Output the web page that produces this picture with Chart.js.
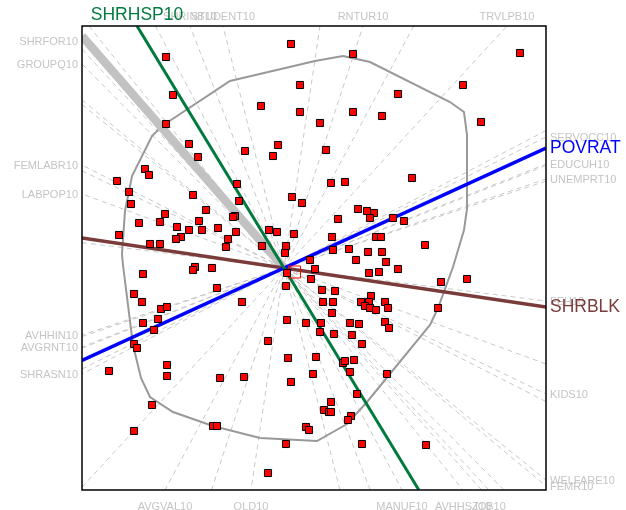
<!DOCTYPE html>
<html>
<head>
<meta charset="utf-8">
<script src="https://cdn.jsdelivr.net/npm/chart.js@4.4.1/dist/chart.umd.min.js"></script>
<style>
  html, body { margin: 0; padding: 0; background: #ffffff; }
  canvas { display: block; }
</style>
</head>
<body>
<canvas id="biplot" width="626" height="510"></canvas>
<script>
// Plot window in component-score units
const xRange = [-2.02, 2.62];
const yRange = [-2.22, 2.42];

// Observation scores (component 1, component 2)
const obsX = [
  0.07, -1.18, 0.16, -1.11, -0.23, 0.16, -1.18, -0.95, -0.06, -0.39,
  -0.86, -0.11, -1.39, -1.35, -1.67, -0.47, -1.55, -0.91, 0.08, -0.45,
  0.18, -1.53, -0.78, -1.19, -0.49, -0.51, -1.45, -1.24, -0.85, -1.07,
  -0.82, -0.95, -0.66, -0.15, -0.07, -0.48, 0.10, -1.65, -1.03, -1.08,
  -0.56, -1.34, -1.24, -0.58, -0.22, 0.02, 0.01, 0.26, -0.89, -0.72,
  0.69, 2.36, 1.79, 1.14, 0.69, 0.98, 0.36, 1.97, 0.42, 0.47,
  0.61, 1.28, 0.74, 0.83, 0.90, 0.86, 0.54, 1.09, 1.20, 0.48,
  0.92, 0.97, 1.41, 0.49, 0.65, 0.84, 0.98, 0.72, 1.02, 0.31,
  1.14, -1.41, -0.91, 0.85, 0.95, 1.57, 1.83, 0.03, 0.27, -1.50,
  -1.42, -0.67, 0.02, 0.38, 0.51, 0.87, 0.85, 0.77, 1.01, 0.81,
  0.86, 0.92, 1.04, 1.54, 0.39, 0.49, -0.42, -1.23, -1.17, 0.48,
  -1.26, -1.41, -1.30, 0.03, 0.22, 0.37, 0.66, 0.75, 1.01, 1.05,
  0.36, 0.50, 0.68, 0.78, -0.16, -1.50, -1.47, -1.75, -1.17, -1.17,
  -0.64, -0.40, 0.04, 0.32, 0.59, 0.70, 0.66, 0.29, 0.07, 1.03,
  0.73, 0.47, 0.40, 0.45, 0.47, 0.67, 0.64, -1.32, -1.50, -0.71,
  -0.67, 0.22, 0.25, 0.02, 0.78, 1.42, -0.16, 0.61
];
const obsY = [
  2.24, 2.11, 1.83, 1.73, 1.62, 1.56, 1.44, 1.24, 1.23, 1.17,
  1.11, 1.12, 0.99, 0.93, 0.87, 0.84, 0.76, 0.73, 0.71, 0.67,
  0.65, 0.64, 0.58, 0.54, 0.52, 0.51, 0.45, 0.46, 0.47, 0.41,
  0.38, 0.38, 0.40, 0.38, 0.36, 0.36, 0.34, 0.33, 0.31, 0.29,
  0.29, 0.24, 0.24, 0.21, 0.22, 0.22, 0.15, 0.08, 0.01, 0.00,
  2.14, 2.15, 1.83, 1.74, 1.56, 1.52, 1.45, 1.46, 1.18, 0.85,
  0.86, 0.90, 0.59, 0.57, 0.55, 0.50, 0.49, 0.50, 0.47, 0.31,
  0.31, 0.31, 0.23, 0.18, 0.19, 0.16, 0.16, 0.08, 0.06, -0.01,
  -0.01, -0.06, -0.02, -0.05, -0.04, -0.14, -0.11, -0.05, -0.11, -0.26,
  -0.34, -0.20, -0.18, -0.22, -0.23, -0.28, -0.34, -0.34, -0.34, -0.38,
  -0.40, -0.42, -0.40, -0.40, -0.34, -0.34, -0.34, -0.41, -0.39, -0.45,
  -0.51, -0.55, -0.62, -0.52, -0.55, -0.55, -0.55, -0.56, -0.54, -0.60,
  -0.64, -0.66, -0.67, -0.76, -0.73, -0.76, -0.80, -1.03, -0.97, -1.08,
  -1.10, -1.09, -0.90, -0.89, -0.95, -0.92, -1.04, -1.06, -1.14, -1.06,
  -1.26, -1.34, -1.42, -1.44, -1.44, -1.48, -1.52, -1.37, -1.63, -1.58,
  -1.58, -1.59, -1.62, -1.76, -1.76, -1.77, -2.05, -0.93
];

// Variable axes: direction of each loading (its positive end is labelled)
const varNames = [
  'SHRINB10', 'STUDENT10', 'RNTUR10', 'TRVLPB10',
  'SHRFOR10', 'GROUPQ10', 'FEMLABR10', 'LABPOP10', 'AVHHIN10', 'AVGRNT10', 'SHRASN10',
  'SERVOCC10', 'EDUCUH10', 'UNEMPRT10', 'FEH10', 'KIDS10', 'WELFARE10', 'FEMR10',
  'AVGVAL10', 'OLD10', 'MANUF10', 'AVHHSZ10', 'JOB10'
];
const varX = [
  -0.94, -0.61, 0.79, 2.23,
  -2.02, -2.02, -2.02, -2.02, -2.02, -2.02, -2.02,
  2.62, 2.62, 2.62, 2.62, 2.62, 2.62, 2.62,
  -1.19, -0.33, 1.18, 1.79, 2.05
];
const varY = [
  2.42, 2.42, 2.42, 2.42,
  2.27, 2.04, 1.03, 0.74, -0.67, -0.79, -1.06,
  1.31, 1.04, 0.89, -0.33, -1.26, -2.12, -2.18,
  -2.22, -2.22, -2.22, -2.22, -2.22
];

// Highlighted variables
const keyNames = ['SHRHSP10', 'POVRAT', 'SHRBLK'];
const keyX = [-1.47, 2.62, 2.62];
const keyY = [2.42, 1.20, -0.39];
const keyColors = ['#007a3d', '#0000ff', '#7a3b3b'];

// Grey bundle toward the upper left
const bundleX = [0, -2.02];
const bundleY = [0, 2.32];

// Bag outline
const hullX = [0.59, 0.86, 1.66, 1.80, 1.83, 1.83, 1.80, 1.69, 1.54, 1.46,
  0.83, 0.63, 0.33, -0.24, -0.71, -1.11, -1.34, -1.43, -1.51, -1.61,
  -1.62, -1.59, -1.52, -1.32, -1.22, -0.54, 0.31, 0.59];
const hullY = [2.12, 2.06, 1.66, 1.56, 1.33, 0.59, 0.38, 0.01, -0.40, -0.57,
  -1.34, -1.56, -1.73, -1.70, -1.58, -1.44, -1.29, -1.10, -0.77, 0.03,
  0.14, 0.57, 0.92, 1.32, 1.42, 1.87, 2.07, 2.12];

// Depth median
const medianX = [0.105];
const medianY = [-0.04];

// Point where a ray from the origin along sign*(dx,dy) leaves the plot window
function reach(dx, dy, sign) {
  const ux = sign * dx, uy = sign * dy;
  let t = Infinity, side = null;
  const test = (v, s) => { if (v < t) { t = v; side = s; } };
  if (ux > 0) test(xRange[1] / ux, 'right');
  if (ux < 0) test(xRange[0] / ux, 'left');
  if (uy > 0) test(yRange[1] / uy, 'top');
  if (uy < 0) test(yRange[0] / uy, 'bottom');
  return { x: ux * t, y: uy * t, side: side };
}
function fullLine(dx, dy) {
  const a = reach(dx, dy, -1), b = reach(dx, dy, 1);
  return [{ x: a.x, y: a.y }, { x: b.x, y: b.y }];
}

const datasets = [];

datasets.push({
  label: 'tracts',
  data: obsX.map((x, i) => ({ x: x, y: obsY[i] })),
  pointStyle: 'rect',
  pointRadius: 5,
  backgroundColor: '#ff0000',
  borderColor: '#000000',
  borderWidth: 1,
  showLine: false,
  order: 0
});

datasets.push({
  label: 'median',
  data: medianX.map((x, i) => ({ x: x, y: medianY[i] })),
  pointStyle: 'rect',
  pointRadius: 8.5,
  backgroundColor: 'rgba(0,0,0,0)',
  borderColor: '#ff0000',
  borderWidth: 1,
  showLine: false,
  order: 1
});

keyNames.forEach((name, i) => {
  datasets.push({
    label: name,
    data: fullLine(keyX[i], keyY[i]),
    showLine: true,
    borderColor: keyColors[i],
    borderWidth: i === 0 ? 3 : 3.5,
    pointRadius: 0,
    order: 2
  });
});

datasets.push({
  label: 'bundle',
  data: bundleX.map((x, i) => ({ x: x, y: bundleY[i] })),
  showLine: true,
  borderColor: '#c2c2c2',
  borderWidth: 8.5,
  borderCapStyle: 'butt',
  pointRadius: 0,
  order: 3
});

datasets.push({
  label: 'bag',
  data: hullX.map((x, i) => ({ x: x, y: hullY[i] })),
  showLine: true,
  borderColor: '#999999',
  borderWidth: 2,
  pointRadius: 0,
  tension: 0,
  order: 4
});

varNames.forEach((name, i) => {
  datasets.push({
    label: name,
    data: fullLine(varX[i], varY[i]),
    showLine: true,
    borderColor: '#c8c8c8',
    borderWidth: 1,
    borderDash: [5, 4],
    pointRadius: 0,
    order: 5
  });
});

// Frame and axis labels at the outer end of each variable line
const biplotLabels = {
  id: 'biplotLabels',
  afterDraw(chart) {
    const { ctx, chartArea, scales } = chart;
    const sx = scales.x, sy = scales.y;
    ctx.save();
    ctx.strokeStyle = '#000000';
    ctx.lineWidth = 1.5;
    ctx.strokeRect(chartArea.left, chartArea.top,
      chartArea.right - chartArea.left, chartArea.bottom - chartArea.top);

    const put = (name, dx, dy, color, size) => {
      const end = reach(dx, dy, 1);
      const px = sx.getPixelForValue(end.x);
      const py = sy.getPixelForValue(end.y);
      ctx.fillStyle = color;
      ctx.font = size + 'px "Liberation Sans", Arial, sans-serif';
      if (end.side === 'top') {
        ctx.textAlign = 'center'; ctx.textBaseline = 'alphabetic';
        ctx.fillText(name, px, chartArea.top - 6);
      } else if (end.side === 'bottom') {
        ctx.textAlign = 'center'; ctx.textBaseline = 'alphabetic';
        ctx.fillText(name, px, chartArea.bottom + 19.5);
      } else if (end.side === 'left') {
        ctx.textAlign = 'right'; ctx.textBaseline = 'middle';
        ctx.fillText(name, chartArea.left - 4, py + 0.5);
      } else {
        ctx.textAlign = 'left'; ctx.textBaseline = 'middle';
        ctx.fillText(name, chartArea.right + 4, py + 0.5);
      }
    };
    varNames.forEach((n, i) => put(n, varX[i], varY[i], '#c4c4c4', 11));
    keyNames.forEach((n, i) => put(n, keyX[i], keyY[i], keyColors[i], 17.5));
    ctx.restore();
  }
};

new Chart(document.getElementById('biplot'), {
  type: 'scatter',
  data: { datasets: datasets },
  options: {
    responsive: false,
    devicePixelRatio: 1,
    animation: false,
    events: [],
    layout: { padding: { left: 82, top: 26, right: 80, bottom: 20 } },
    plugins: { legend: { display: false }, tooltip: { enabled: false } },
    scales: {
      x: { type: 'linear', min: xRange[0], max: xRange[1], display: false },
      y: { type: 'linear', min: yRange[0], max: yRange[1], display: false }
    }
  },
  plugins: [biplotLabels]
});
</script>
</body>
</html>
